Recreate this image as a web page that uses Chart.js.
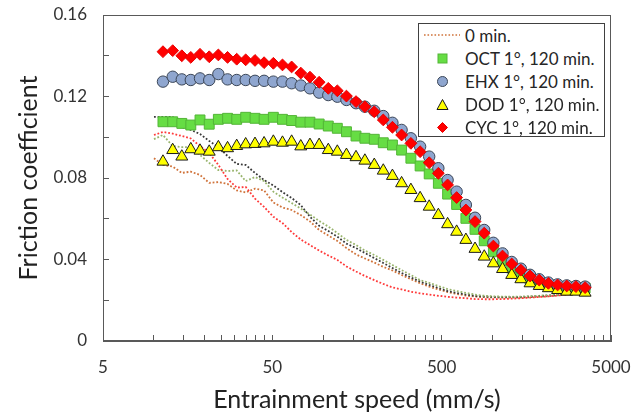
<!DOCTYPE html>
<html>
<head>
<meta charset="utf-8">
<script src="https://cdn.jsdelivr.net/npm/chart.js@4.4.1/dist/chart.umd.min.js"></script>
<style>
  body { margin: 0; background: #fff; }
  #wrap { position: relative; width: 644px; height: 416px; font-family: Lato, 'Open Sans', sans-serif; }
  #chart-legend { position: absolute; left: 418px; top: 23px; width: 185px; height: 112px; border: 1px solid #404040; background: #fff; }
  .item { position: absolute; left: 0; height: 22px; display: flex; align-items: center; font-size: 17px; color: #262626; white-space: nowrap; }
  .sym { width: 46px; display: flex; justify-content: center; align-items: center; }
</style>
</head>
<body>
<div id="wrap">
  <canvas id="friction-chart" width="644" height="416"></canvas>
  <div id="chart-legend"></div>
</div>
<script>
// entrainment speeds (mm/s) of the 120 min. runs
const speeds = [11.3, 12.9, 14.6, 16.5, 18.7, 21.2, 24.0, 27.2, 30.8, 34.8, 39.5, 44.7, 50.7, 57.4, 65.0, 73.6,
  83.4, 94.5, 107, 121, 137, 156, 176, 200, 226, 256, 290, 329, 373, 422, 478, 542, 613, 695, 787, 892,
  1010, 1144, 1296, 1468, 1663, 1884, 2134, 2418, 2739, 3103, 3516];
// speeds of the 0 min. runs
const speedsRef = [10.0, 11.3, 12.9, 14.6, 16.5, 18.7, 21.2, 24.0, 27.2, 30.8, 34.8, 39.5, 44.7, 50.7, 57.4, 65.0, 73.6,
  83.4, 94.5, 107, 121, 137, 156, 176, 200, 226, 256, 290, 329, 373, 422, 478, 542, 613, 695, 787, 892,
  1010, 1144, 1296, 1468, 1663, 1884, 2134, 2418, 2739, 3103, 3516];

const oct = [0.1076, 0.1076, 0.1068, 0.1060, 0.1085, 0.1064, 0.1088, 0.1093, 0.1088, 0.1098, 0.1093, 0.1088,
  0.1098, 0.1088, 0.1082, 0.1074, 0.1074, 0.1065, 0.1055, 0.1044, 0.1027, 0.1006, 0.0995, 0.0990, 0.0973,
  0.0962, 0.0937, 0.0897, 0.0859, 0.0820, 0.0774, 0.0721, 0.0670, 0.0602, 0.0548, 0.0492, 0.0438, 0.0394,
  0.0358, 0.0330, 0.0305, 0.0288, 0.0276, 0.0270, 0.0266, 0.0262, 0.0260];
const ehx = [0.1273, 0.1297, 0.1284, 0.1281, 0.1289, 0.1281, 0.1310, 0.1284, 0.1281, 0.1281, 0.1277, 0.1277,
  0.1273, 0.1273, 0.1265, 0.1254, 0.1240, 0.1219, 0.1207, 0.1199, 0.1183, 0.1167, 0.1150, 0.1130, 0.1104,
  0.1071, 0.1036, 0.0995, 0.0954, 0.0905, 0.0848, 0.0790, 0.0733, 0.0668, 0.0605, 0.0545, 0.0482, 0.0430,
  0.0388, 0.0355, 0.0325, 0.0303, 0.0287, 0.0278, 0.0273, 0.0270, 0.0267];
const dod = [0.0880, 0.0937, 0.0905, 0.0941, 0.0934, 0.0929, 0.0951, 0.0946, 0.0957, 0.0965, 0.0967, 0.0970,
  0.0978, 0.0973, 0.0978, 0.0955, 0.0962, 0.0962, 0.0937, 0.0929, 0.0913, 0.0902, 0.0885, 0.0864, 0.0836,
  0.0810, 0.0774, 0.0741, 0.0701, 0.0659, 0.0618, 0.0573, 0.0536, 0.0496, 0.0452, 0.0414, 0.0381, 0.0353,
  0.0324, 0.0303, 0.0283, 0.0270, 0.0259, 0.0250, 0.0242, 0.0242, 0.0237];
const cyc = [0.1420, 0.1425, 0.1400, 0.1392, 0.1407, 0.1395, 0.1404, 0.1392, 0.1383, 0.1380, 0.1377, 0.1366,
  0.1363, 0.1355, 0.1345, 0.1315, 0.1295, 0.1270, 0.1240, 0.1228, 0.1202, 0.1175, 0.1150, 0.1125, 0.1085,
  0.1049, 0.1011, 0.0970, 0.0929, 0.0875, 0.0823, 0.0766, 0.0704, 0.0643, 0.0586, 0.0529, 0.0466, 0.0417,
  0.0378, 0.0348, 0.0319, 0.0299, 0.0283, 0.0275, 0.0270, 0.0267, 0.0262];

// 0 min. curves (dotted)
const ref0Orange = [0.0897, 0.0864, 0.0856, 0.0825, 0.0831, 0.0815, 0.0776, 0.0780, 0.0771, 0.0739, 0.0729, 0.0748,
  0.0739, 0.0680, 0.0655, 0.0643, 0.0618, 0.0587, 0.0545, 0.0518, 0.0491, 0.0456, 0.0425, 0.0405, 0.0385,
  0.0364, 0.0346, 0.0324, 0.0303, 0.0283, 0.0267, 0.0253, 0.0240, 0.0231, 0.0223, 0.0218, 0.0215, 0.0214,
  0.0213, 0.0213, 0.0213, 0.0215, 0.0217, 0.0220, 0.0224, 0.0228, 0.0231, 0.0234];
const ref0Black = [0.1100, 0.1100, 0.1100, 0.1050, 0.1036, 0.1016, 0.0982, 0.0952, 0.0908, 0.0869, 0.0864, 0.0825,
  0.0790, 0.0763, 0.0731, 0.0702, 0.0667, 0.0610, 0.0565, 0.0540, 0.0512, 0.0478, 0.0456, 0.0432, 0.0407,
  0.0383, 0.0358, 0.0334, 0.0312, 0.0291, 0.0275, 0.0260, 0.0245, 0.0236, 0.0228, 0.0221, 0.0218, 0.0216,
  0.0215, 0.0215, 0.0216, 0.0218, 0.0221, 0.0223, 0.0226, 0.0228, 0.0231, 0.0234];
const ref0Red = [0.1011, 0.1026, 0.1018, 0.1006, 0.0994, 0.0957, 0.0923, 0.0864, 0.0795, 0.0753, 0.0756, 0.0699,
  0.0658, 0.0610, 0.0579, 0.0535, 0.0498, 0.0471, 0.0444, 0.0420, 0.0398, 0.0366, 0.0341, 0.0319, 0.0299,
  0.0280, 0.0263, 0.0253, 0.0242, 0.0234, 0.0228, 0.0222, 0.0217, 0.0213, 0.0210, 0.0206, 0.0205, 0.0205,
  0.0206, 0.0208, 0.0210, 0.0213, 0.0216, 0.0219, 0.0223, 0.0227, 0.0231, 0.0234];
const ref0Green = [0.0991, 0.1011, 0.0957, 0.0952, 0.0952, 0.0913, 0.0874, 0.0839, 0.0834, 0.0837, 0.0785, 0.0805,
  0.0785, 0.0733, 0.0704, 0.0677, 0.0650, 0.0621, 0.0589, 0.0562, 0.0530, 0.0496, 0.0471, 0.0444, 0.0422,
  0.0398, 0.0373, 0.0348, 0.0324, 0.0299, 0.0285, 0.0270, 0.0255, 0.0245, 0.0236, 0.0228, 0.0222, 0.0219,
  0.0218, 0.0217, 0.0218, 0.0220, 0.0222, 0.0225, 0.0227, 0.0231, 0.0234, 0.0237];

const xTickLabels = [5, 50, 500, 5000];
const yTickLabels = [0, 0.04, 0.08, 0.12, 0.16];
const yMinorStep = 0.01;

const toPoints = (xs, ys) => xs.map((x, i) => ({ x, y: ys[i] }));

function dotted(label, values, color, order, hideInLegend) {
  return {
    label,
    data: toPoints(speedsRef, values),
    showLine: true,
    borderColor: color,
    backgroundColor: color,
    borderWidth: 1.8,
    borderDash: [1.8, 1.9],
    pointRadius: 0,
    tension: 0,
    order,
    hideInLegend
  };
}

function markers(label, values, style, radius, fill, edge, order) {
  return {
    label,
    data: toPoints(speeds, values),
    showLine: false,
    pointStyle: style,
    pointRadius: radius,
    pointHoverRadius: radius,
    backgroundColor: fill,
    borderColor: edge,
    borderWidth: 1,
    order
  };
}

const datasets = [
  dotted('0 min.', ref0Orange, '#d0743c', 7, false),
  markers('OCT 1°, 120 min.', oct, 'rect', 7, '#66dd44', '#52b536', 3),
  markers('EHX 1°, 120 min.', ehx, 'circle', 5.7, '#8fa6cf', '#3b4657', 2),
  markers('DOD 1°, 120 min.', dod, 'triangle', 6.9, '#ffff00', '#1a1a1a', 1),
  markers('CYC 1°, 120 min.', cyc, 'rectRot', 5.9, '#ff0000', '#e80000', 0),
  dotted('0 min. b', ref0Black, '#3a3a3a', 6, true),
  dotted('0 min. c', ref0Green, '#98b46c', 5, true),
  dotted('0 min. d', ref0Red, '#ff3a3a', 4, true)
];

function legendSymbol(ds) {
  const f = ds.backgroundColor, e = ds.borderColor;
  if (ds.showLine) {
    return `<svg width="36" height="4"><line x1="0" y1="2" x2="36" y2="2" stroke="${e}" stroke-width="1.6" stroke-dasharray="1.6 1.9"/></svg>`;
  }
  const shapes = {
    rect: `<rect x="2" y="2" width="9" height="9" fill="${f}" stroke="${e}"/>`,
    circle: `<circle cx="6.5" cy="6.5" r="5" fill="${f}" stroke="${e}"/>`,
    triangle: `<polygon points="6.5,1.5 12,11.5 1,11.5" fill="${f}" stroke="${e}"/>`,
    rectRot: `<polygon points="6.5,1.5 11.5,6.5 6.5,11.5 1.5,6.5" fill="${f}" stroke="${e}"/>`
  };
  return `<svg width="13" height="13">${shapes[ds.pointStyle]}</svg>`;
}

const frame = {
  id: 'frame',
  beforeDatasetsDraw(chart) {
    const { ctx, chartArea: a } = chart;
    ctx.save();
    ctx.strokeStyle = '#595959';
    ctx.lineWidth = 1;
    ctx.strokeRect(a.left + 0.5, a.top + 0.5, a.right - a.left - 1, a.bottom - a.top - 1);
    ctx.restore();
  }
};

const htmlLegend = {
  id: 'html_legend',
  afterUpdate(chart) {
    const box = document.getElementById('chart-legend');
    box.innerHTML = chart.data.datasets
      .filter(ds => !ds.hideInLegend)
      .map((ds, idx) => `
        <div class="item" style="top:${idx * 23.2}px;">
          <div class="sym">${legendSymbol(ds)}</div>
          <span>${ds.label}</span>
        </div>
      `).join('');
  }
};

Chart.defaults.font.family = 'Lato, "Open Sans", sans-serif';

new Chart(document.getElementById('friction-chart'), {
  type: 'scatter',
  data: { datasets },
  options: {
    responsive: false,
    animation: false,
    devicePixelRatio: 1,
    layout: { padding: { left: 0, top: 15, right: 33, bottom: 0 } },
    plugins: {
      legend: { display: false },
      tooltip: { enabled: false }
    },
    scales: {
      x: {
        type: 'logarithmic',
        min: 5,
        max: 5000,
        border: { display: true, color: '#595959', width: 1 },
        grid: { drawOnChartArea: false, tickLength: -6, color: '#595959' },
        afterBuildTicks: scale => {
          const vals = [];
          xTickLabels.slice(0, -1).forEach(b => {
            for (let k = 1; k < 10; k++) vals.push(b * k);
          });
          vals.push(xTickLabels[xTickLabels.length - 1]);
          scale.ticks = vals.map(v => ({ value: v }));
        },
        afterFit: scale => {
          scale.height = 75;
          scale.paddingLeft = 0;
          scale.paddingRight = 0;
        },
        ticks: {
          autoSkip: false,
          maxRotation: 0,
          padding: 22,
          color: '#333333',
          font: { size: 17 },
          callback: value => xTickLabels.includes(value) ? String(value) : ''
        },
        title: {
          display: true,
          text: 'Entrainment speed (mm/s)',
          color: '#222222',
          font: { size: 25 },
          padding: { top: 0, bottom: 1 }
        }
      },
      y: {
        min: 0,
        max: 0.16,
        border: { display: true, color: '#595959', width: 1 },
        grid: { drawOnChartArea: false, tickLength: -6, color: '#595959' },
        afterBuildTicks: scale => {
          const top = yTickLabels[yTickLabels.length - 1];
          const vals = [];
          for (let v = 0; v <= top + 1e-9; v += yMinorStep) vals.push(+v.toFixed(2));
          scale.ticks = vals.map(v => ({ value: v }));
        },
        afterFit: scale => {
          scale.width = 103;
          scale.paddingTop = 0;
          scale.paddingBottom = 0;
        },
        ticks: {
          padding: 22,
          color: '#333333',
          font: { size: 17 },
          callback: value => {
            const hit = yTickLabels.find(t => Math.abs(t - value) < 1e-9);
            if (hit === undefined) return '';
            return hit === 0 ? '0' : hit.toFixed(2);
          }
        },
        title: {
          display: true,
          text: 'Friction coefficient',
          color: '#222222',
          font: { size: 25 },
          padding: { top: 14, bottom: 0 }
        }
      }
    }
  },
  plugins: [frame, htmlLegend]
});
</script>
</body>
</html>
